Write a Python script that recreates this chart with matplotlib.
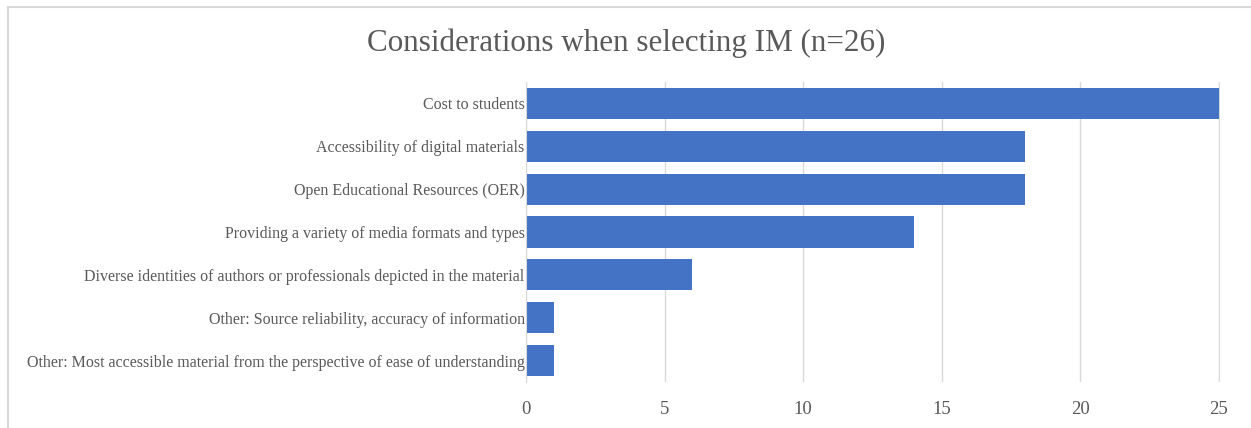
import matplotlib.pyplot as plt
from matplotlib.patches import Rectangle

# categories listed top to bottom
categories = [
    'Cost to students',
    'Accessibility of digital materials',
    'Open Educational Resources (OER)',
    'Providing a variety of media formats and types',
    'Diverse identities of authors or professionals depicted in the material',
    'Other: Source reliability, accuracy of information',
    'Other: Most accessible material from the perspective of ease of understanding',
]
counts = [25, 18, 18, 14, 6, 1, 1]
x_ticks = [0, 5, 10, 15, 20, 25]

plt.rcParams['font.family'] = ['Liberation Serif', 'DejaVu Serif']
text_color = '#595959'

fig = plt.figure(figsize=(12.51, 4.28), dpi=100)
ax = fig.add_axes([0.4205, 0.1075, 0.5547, 0.7009])

# light border round the chart area (open on the right and bottom)
fig.patches.append(Rectangle((8 / 1251, -0.1), 1.2, 1.1 - 7 / 428, transform=fig.transFigure,
                             fill=False, edgecolor='#d9d9d9', linewidth=1.5))

pos = list(range(len(categories)))
ax.barh(pos, counts, height=0.73, color='#4472c4', zorder=3)
ax.set_ylim(len(categories) - 0.5, -0.5)
ax.set_xlim(0, 25.05)

ax.set_yticks(pos)
ax.set_yticklabels(categories, fontsize=11.55, color=text_color)
ax.set_xticks(x_ticks)
ax.set_xticklabels([str(t) for t in x_ticks], fontsize=13.5, color=text_color)
ax.tick_params(axis='both', length=0)
ax.tick_params(axis='x', pad=14)
ax.tick_params(axis='y', pad=1)

ax.grid(axis='x', color='#d9d9d9', linewidth=1, zorder=0)
for s in ['top', 'right', 'bottom']:
    ax.spines[s].set_visible(False)
ax.spines['left'].set_color('#d9d9d9')
ax.spines['left'].set_zorder(4)

fig.text(626 / 1251, 1 - 43 / 428, 'Considerations when selecting IM (n=26)',
         ha='center', va='center', fontsize=22.4, color=text_color)

plt.savefig('out.png', dpi=100)
